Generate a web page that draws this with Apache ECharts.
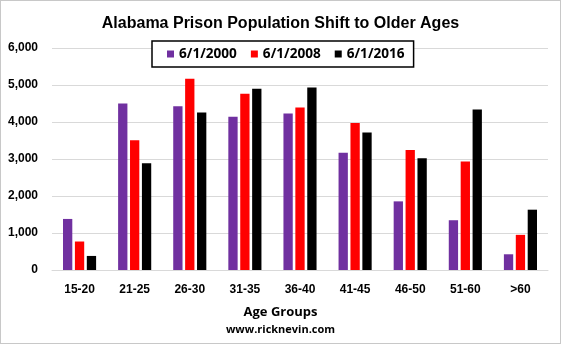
<!DOCTYPE html>
<html><head><meta charset="utf-8">
<script src="https://cdn.jsdelivr.net/npm/echarts@6/dist/echarts.min.js"></script>
<style>
html,body{margin:0;padding:0;background:#fff;}
#c{width:561px;height:344px;box-sizing:border-box;border:1px solid #c8c8c8;}
</style></head>
<body><div id="c"></div>
<script>
const categories = ['15-20','21-25','26-30','31-35','36-40','41-45','46-50','51-60','>60'];
const seriesNames = ['6/1/2000','6/1/2008','6/1/2016'];
const values2000 = [1380, 4500, 4425, 4140, 4230, 3170, 1855, 1345, 425];
const values2008 = [770, 3510, 5170, 4765, 4390, 3970, 3245, 2930, 950];
const values2016 = [380, 2885, 4255, 4900, 4935, 3715, 3020, 4335, 1630];
const yTicks = {min: 0, max: 6000, interval: 1000};

const FONT = 'Liberation Sans';
const chart = echarts.init(document.getElementById('c'), null, {renderer: 'canvas'});
const colors = ['#7030A0', '#FF0000', '#000000'];
const data = [values2000, values2008, values2016];
chart.setOption({
  animation: false,
  textStyle: {fontFamily: FONT},
  title: [
    {text: 'Alabama Prison Population Shift to Older Ages', left: 'center', top: 10,
     textStyle: {fontSize: 16, fontWeight: 'bold', color: '#000', fontFamily: FONT}},
    {text: 'Age Groups', left: 'center', top: 300,
     textStyle: {fontSize: 13, fontWeight: 'bold', color: '#000', fontFamily: 'Open Sans'}},
    {text: 'www.ricknevin.com', left: 'center', top: 318,
     textStyle: {fontSize: 11, fontWeight: 'bold', color: '#000', fontFamily: 'Open Sans'}}
  ],
  legend: {
    data: seriesNames, left: 151, top: 40,
    borderColor: '#000', borderWidth: 1.5, backgroundColor: '#fff',
    padding: [5, 9, 5, 15], itemGap: 14, itemWidth: 7, itemHeight: 7, icon: 'rect',
    textStyle: {fontSize: 13.6, fontWeight: 'bold', color: '#000', fontFamily: 'Open Sans', lineHeight: 16}
  },
  grid: {left: 51, right: 12, top: 47, bottom: 73, containLabel: false},
  xAxis: {
    type: 'category', data: categories,
    axisLine: {lineStyle: {color: '#d9d9d9'}}, axisTick: {show: false},
    axisLabel: {fontSize: 12, fontWeight: 'bold', color: '#000', margin: 14, fontFamily: FONT}
  },
  yAxis: {
    type: 'value', min: yTicks.min, max: yTicks.max, interval: yTicks.interval,
    axisLine: {show: false}, axisTick: {show: false},
    splitLine: {lineStyle: {color: '#d9d9d9'}},
    axisLabel: {fontSize: 12, fontWeight: 'bold', color: '#000', margin: 14, fontFamily: FONT,
      formatter: v => v.toLocaleString('en-US')}
  },
  series: seriesNames.map((n, i) => ({
    name: n, type: 'bar', data: data[i], barWidth: 9.3, barGap: '28%', barCategoryGap: '40%',
    itemStyle: {color: colors[i]}
  }))
});
</script></body></html>
